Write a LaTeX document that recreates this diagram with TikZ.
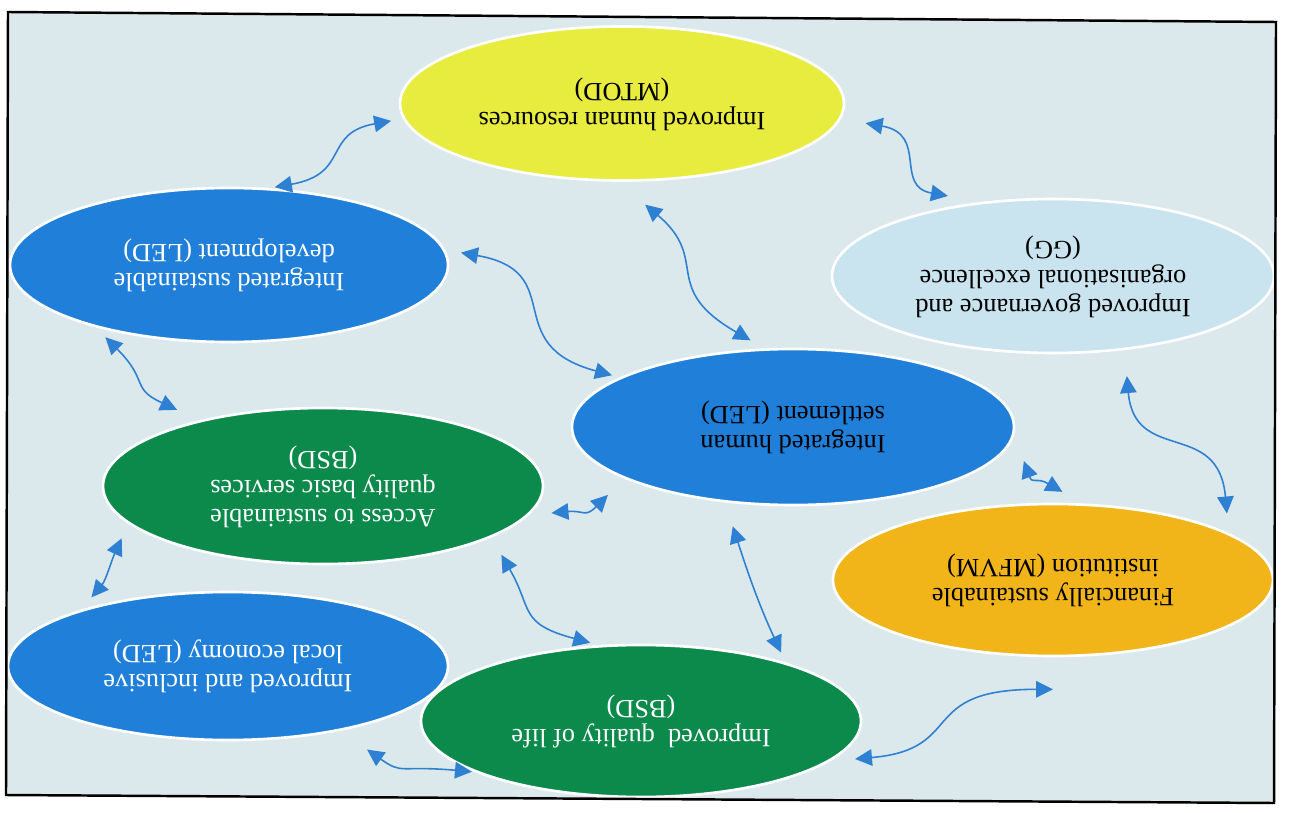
\documentclass[tikz,border=0pt]{standalone}
\usepackage{fontspec}
\setmainfont{Liberation Serif}
\usepackage{graphicx}
\usetikzlibrary{shapes.geometric,arrows.meta,positioning}

\definecolor{bgpale}{HTML}{DCE9EC}
\definecolor{hryellow}{HTML}{E8EC3E}
\definecolor{ggblue}{HTML}{C9E4EE}
\definecolor{ledblue}{HTML}{1F7FD9}
\definecolor{bsdgreen}{HTML}{0B8A4C}
\definecolor{mfvmorange}{HTML}{F1B51A}
\definecolor{linkblue}{HTML}{2E80D2}

% the whole scan is upside down
\newcommand{\flip}[1]{\rotatebox{180}{\begin{tabular}{@{}c@{}}#1\end{tabular}}}

\begin{document}
\begin{tikzpicture}[
    goal/.style={ellipse, draw=white, line width=1.5pt, inner sep=0pt,
        minimum width=8.8cm, minimum height=3.08cm,
        font=\fontsize{15}{16.5}\selectfont},
    link/.style={{Triangle[length=3.4mm,width=3.3mm]}-{Triangle[length=3.4mm,width=3.3mm]},
        draw=linkblue, line width=0.9pt, looseness=1.4}
]
    \useasboundingbox (0,0) rectangle (25.78,-16.26);
    \fill[bgpale] (0.16,-0.24) -- (25.52,-0.44) -- (25.48,-16.06) -- (0.12,-15.90) -- cycle;

    \node[goal, fill=hryellow, minimum width=8.88cm] (hr) at (12.44,-2.07) {\flip{Improved human resources\\(MTOD)}};
    \node[goal, fill=ggblue, minimum width=8.84cm] (gg) at (21.06,-5.52) {\flip{Improved governance and\\organisational excellence\\(GG)}};
    \node[goal, fill=ledblue, text=white, minimum width=8.76cm] (isd) at (4.58,-5.30) {\flip{Integrated sustainable\\development (LED)}};
    \node[goal, fill=ledblue, minimum width=8.84cm, minimum height=3.12cm] (ihs) at (15.86,-8.54) {\flip{Integrated human\\settlement (LED)}};
    \node[goal, fill=bsdgreen, text=white, minimum height=3.12cm] (bsd) at (6.46,-9.72) {\flip{Access to sustainable\\quality basic services\\(BSD)}};
    \node[goal, fill=mfvmorange, minimum height=3.04cm] (fin) at (21.06,-11.60) {\flip{Financially sustainable\\institution (MFVM)}};
    \node[goal, fill=ledblue, text=white, minimum height=2.96cm] (eco) at (4.56,-13.32) {\flip{Improved and inclusive\\local economy (LED)}};
    \node[goal, fill=bsdgreen, text=white, minimum height=3.04cm] (qol) at (12.82,-14.42) {\flip{Improved\ \ quality of life\\(BSD)}};
    \coordinate (finlow) at ([yshift=-0.64cm]fin.south);

    \draw[link, shorten <=0.24cm, shorten >=0.1cm] (hr.184) to[out=190, in=10] (isd.62);
    \draw[link, shorten <=0.5cm, shorten >=0.68cm] (hr.-4) to[out=-10, in=170] (gg.134);
    \draw[link, shorten <=0.71cm, shorten >=0.32cm] (hr.267) to[out=-40, in=150] (ihs.110);
    \draw[link, shorten <=0.32cm, shorten >=0.16cm, looseness=1.5] (isd.4.5) to[out=-10, in=165] (ihs.164);
    \draw[link, shorten <=0.28cm, shorten >=0.49cm] (isd.205) to[out=-45, in=155] (bsd.152);
    \draw[link, shorten <=0.52cm, shorten >=0.39cm] (gg.-46) to[out=-85, in=95] (fin.15);
    \draw[link, shorten <=0.56cm, shorten >=0.46cm] (ihs.-2) to[out=-70, in=150] (fin.69);
    \draw[link, shorten <=0.45cm, shorten >=0.46cm] (bsd.-8.5) to[out=5, in=225] (ihs.197);
    \draw[link, shorten <=0.4cm, shorten >=0.18cm] (bsd.-17) to[out=-60, in=165] (qol.119);
    \draw[link, shorten <=0.5cm, shorten >=0.22cm, looseness=1] (ihs.228) to[out=-72, in=115] (qol.22);
    \draw[link, shorten <=0.32cm, shorten >=0.32cm, looseness=1] (bsd.191) to[out=-115, in=50] (eco.159);
    \draw[link, shorten <=0.65cm, shorten >=0.05cm] (eco.-30) to[out=-35, in=175] (qol.197);
    \draw[link, shorten <=0.5cm, looseness=1.5] (qol.-12) to[out=5, in=180] (finlow);

    \draw[line width=1.4pt] (0.16,-0.24) -- (25.52,-0.44) -- (25.48,-16.06) -- (0.12,-15.90) -- cycle;
\end{tikzpicture}
\end{document}
